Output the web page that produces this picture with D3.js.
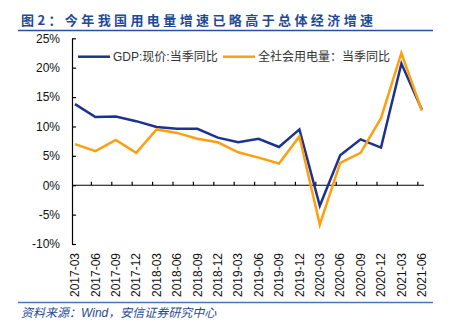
<!DOCTYPE html>
<html><head><meta charset="utf-8">
<script src="https://cdn.jsdelivr.net/npm/d3@7"></script>
<style>
html,body{margin:0;padding:0;background:#fff;}
svg{display:block;}
</style></head>
<body>
<svg id="c" width="450" height="332"></svg>
<script>
const categories = ["2017-03","2017-06","2017-09","2017-12","2018-03","2018-06","2018-09","2018-12","2019-03","2019-06","2019-09","2019-12","2020-03","2020-06","2020-09","2020-12","2021-03","2021-06"];
const gdpValues = [13.8,11.6,11.7,10.9,9.9,9.6,9.6,8.1,7.3,7.9,6.5,9.5,-3.5,5.1,7.8,6.4,20.7,12.9];
const powerValues = [7.0,5.8,7.7,5.5,9.5,8.9,7.9,7.3,5.6,4.7,3.7,8.3,-6.7,3.8,5.5,11.4,22.5,12.7];
const yTicks = [-10,-5,0,5,10,15,20,25];
const seriesNames = ["GDP:现价:当季同比","全社会用电量：当季同比"];
const seriesColors = ["#1c3190","#ff9f0f"];
const titleText = "图2：今年我国用电量增速已略高于总体经济增速";
const sourceText = "资料来源：Wind，安信证券研究中心";

const svg = d3.select("#c");
const font = "Arial, 'Liberation Sans', 'Noto Sans CJK SC', sans-serif";

// title
svg.append("text").attr("x",21).attr("y",24.5)
  .attr("font-family","'Noto Sans CJK SC', sans-serif").attr("font-size",13).attr("font-weight","bold")
  .attr("letter-spacing","3.4px").attr("fill","#1f4a96").text(titleText);
svg.append("line").attr("x1",18).attr("x2",433).attr("y1",30.5).attr("y2",30.5)
  .attr("stroke","#2a4f9c").attr("stroke-width",1.5);

const x = d3.scalePoint().domain(categories).range([75,421.8]);
const y = d3.scaleLinear().domain([-10,25]).range([244,38.3]);

// y axis
const yAxis = d3.axisLeft(y).tickValues(yTicks).tickFormat(d=>d+"%")
  .tickSizeInner(-4).tickSizeOuter(0).tickPadding(12);
const gy = svg.append("g").attr("transform","translate(72,0)").call(yAxis);
gy.selectAll("text").attr("font-family",font).attr("font-size",12).attr("fill","#111");
gy.selectAll("line,path").attr("stroke","#000").attr("stroke-width",1.2);

// x axis at zero
const y0 = y(0);
svg.append("line").attr("x1",72).attr("x2",424).attr("y1",y0).attr("y2",y0)
  .attr("stroke","#000").attr("stroke-width",1.2);
svg.append("g").selectAll("line").data(categories.slice(1)).join("line")
  .attr("x1",d=>x(d)-4).attr("x2",d=>x(d)-4).attr("y1",y0).attr("y2",y0-3.5)
  .attr("stroke","#000").attr("stroke-width",1.2);
svg.append("g").selectAll("text").data(categories).join("text")
  .attr("transform",d=>`translate(${x(d)},253) rotate(-90)`)
  .attr("text-anchor","end").attr("dy","0.35em")
  .attr("font-family",font).attr("font-size",12).attr("fill","#111").text(d=>d);

// lines
const line = d3.line().x((d,i)=>x(categories[i])).y(d=>y(d));
[gdpValues,powerValues].forEach((vals,k)=>{
  svg.append("path").datum(vals).attr("d",line).attr("fill","none")
    .attr("stroke",seriesColors[k]).attr("stroke-width",2.5).attr("stroke-linejoin","miter");
});
// redraw blue on top? keep order: orange above blue as in reference

// legend
const legendX = [78,223];
seriesNames.forEach((n,k)=>{
  svg.append("line").attr("x1",legendX[k]).attr("x2",legendX[k]+32).attr("y1",56.7).attr("y2",56.7)
    .attr("stroke",seriesColors[k]).attr("stroke-width",2.5);
  svg.append("text").attr("x",legendX[k]+35).attr("y",56.7).attr("dy","0.36em")
    .attr("font-family",font).attr("font-size",12).attr("fill","#333").text(n);
});

// source
svg.append("line").attr("x1",18).attr("x2",433).attr("y1",302.5).attr("y2",302.5)
  .attr("stroke","#4f72b8").attr("stroke-width",1.5);
svg.append("text").attr("x",21).attr("y",317)
  .attr("font-family",font).attr("font-size",12).attr("font-style","italic")
  .attr("fill","#1f4a96").text(sourceText);
</script>
</body></html>
